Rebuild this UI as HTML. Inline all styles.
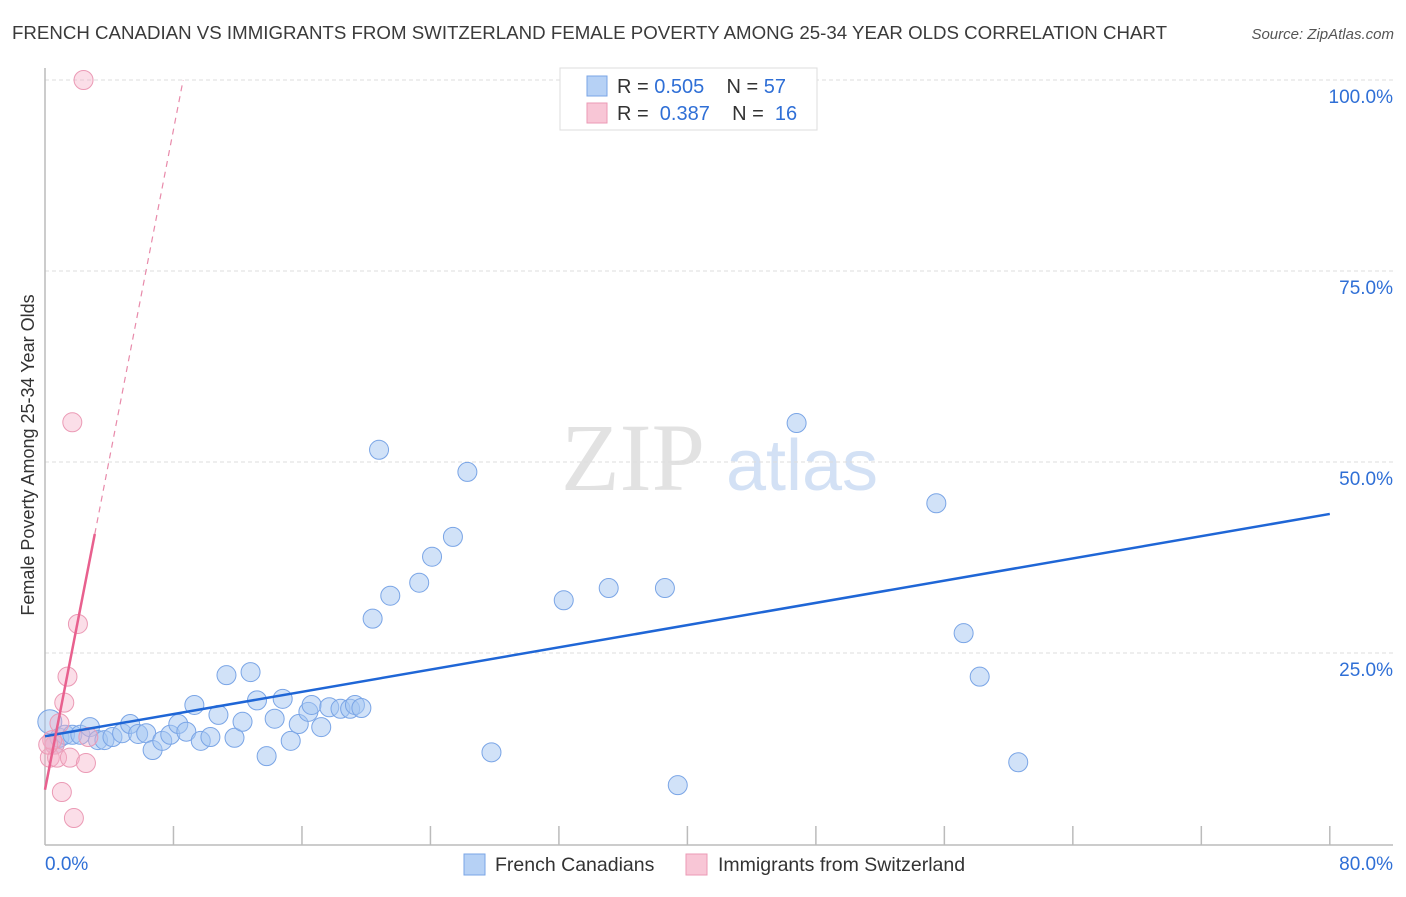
<!DOCTYPE html>
<html><head><meta charset="utf-8"><style>
body{margin:0;background:#fff;font-family:"Liberation Sans",sans-serif;}
</style></head><body>
<svg width="1406" height="892" xmlns="http://www.w3.org/2000/svg" id="chart">
<text x="12" y="39" font-size="18" fill="#3a3a3a" textLength="1155" lengthAdjust="spacingAndGlyphs">FRENCH CANADIAN VS IMMIGRANTS FROM SWITZERLAND FEMALE POVERTY AMONG 25-34 YEAR OLDS CORRELATION CHART</text>
<text x="1394" y="39" font-size="15" fill="#555" font-style="italic" text-anchor="end">Source: ZipAtlas.com</text>
<g>
<text x="633" y="490" font-size="96" fill="#e2e2e2" font-family="Liberation Serif,serif" text-anchor="middle">ZIP</text>
<text x="802" y="490" font-size="72" fill="#d3e1f5" text-anchor="middle">atlas</text>
</g>
<g id="grid"></g>
<g id="axes"></g>
<g id="marks"></g>
<text transform="translate(34,455) rotate(-90)" font-size="18" fill="#333" text-anchor="middle">Female Poverty Among 25-34 Year Olds</text>
<g>
<rect x="560" y="68" width="257" height="62" fill="#fff" stroke="#ddd"/>
<rect x="587" y="76" width="20" height="20" fill="#b6d1f5" stroke="#7aa5e6"/>
<text x="617" y="93" font-size="20" fill="#333" xml:space="preserve">R = <tspan fill="#2f6fd6">0.505</tspan>    N = <tspan fill="#2f6fd6">57</tspan></text>
<rect x="587" y="103" width="20" height="20" fill="#f8c6d6" stroke="#eb9ab5"/>
<text x="617" y="120" font-size="20" fill="#333" xml:space="preserve">R =  <tspan fill="#2f6fd6">0.387</tspan>    N =  <tspan fill="#2f6fd6">16</tspan></text>
</g>
<g>
<rect x="464" y="854" width="21" height="21" fill="#b6d1f5" stroke="#7aa5e6"/>
<text x="495" y="871" font-size="19.5" fill="#333">French Canadians</text>
<rect x="686" y="854" width="21" height="21" fill="#f8c6d6" stroke="#eb9ab5"/>
<text x="718" y="871" font-size="19.5" fill="#333">Immigrants from Switzerland</text>
</g>
</svg>
<script>
const blueX=[0.3,0.6,0.9,1.25,1.7,2.2,2.8,3.3,3.7,4.2,4.8,5.3,5.8,6.3,6.7,7.3,7.8,8.3,8.8,9.3,9.7,10.3,10.8,11.3,11.8,12.3,12.8,13.2,13.8,14.3,14.8,15.3,15.8,16.4,16.6,17.2,17.7,18.4,19.0,19.3,19.7,20.4,20.8,21.5,23.3,24.1,25.4,26.3,27.8,32.3,35.1,38.6,39.4,46.8,55.5,57.2,58.2,60.6];
const blueY=[16.0,13.0,13.9,14.3,14.3,14.3,15.3,13.6,13.6,14.0,14.5,15.7,14.4,14.5,12.3,13.5,14.3,15.7,14.7,18.2,13.5,14.0,16.9,22.1,13.9,16.0,22.5,18.8,11.5,16.4,19.0,13.5,15.7,17.3,18.2,15.3,17.9,17.7,17.7,18.2,17.8,29.5,51.6,32.5,34.2,37.6,40.2,48.7,12.0,31.9,33.5,33.5,7.7,55.1,44.6,27.6,21.9,10.7];
const pinkX=[2.4,1.7,2.05,1.4,1.2,0.9,0.6,0.3,0.75,1.55,2.55,1.05,1.8,0.45,0.2,2.7];
const pinkY=[100,55.2,28.8,21.9,18.5,15.8,13.0,11.3,11.3,11.3,10.6,6.8,3.4,13.6,13.0,14.0];
const blueTrend=[14.1,43.2];
const pinkTrend=[7.1,10.8];
const yTicks=[25,50,75,100];
const NS="http://www.w3.org/2000/svg";
const X=v=>45+v*16.06, Y=v=>844-v*7.64;
function mk(t,a,p){const e=document.createElementNS(NS,t);for(const k in a)e.setAttribute(k,a[k]);p.appendChild(e);return e;}
const grid=document.getElementById('grid'),axes=document.getElementById('axes'),marks=document.getElementById('marks');
yTicks.forEach(v=>{
 const l=mk('line',{x1:45,x2:1393,y1:Y(v),y2:Y(v),stroke:'#ddd','stroke-dasharray':'4,3'},grid);
 
 
 const t=mk('text',{x:1393,y:Y(v)+23,'font-size':19,fill:'#2f6fd6','text-anchor':'end'},axes);
 t.textContent=v.toFixed(1)+'%';
 
 
});
let ax=mk('line',{x1:45,x2:45,y1:68,y2:845,stroke:'#bbb','stroke-width':1.5},axes);


ax=mk('line',{x1:45,x2:1393,y1:845,y2:845,stroke:'#bbb','stroke-width':1.5},axes);


for(let i=1;i<=10;i++){const t=mk('line',{x1:X(i*8),x2:X(i*8),y1:826,y2:845,stroke:'#bbb','stroke-width':1.5},axes);
 
 }
let xl=mk('text',{x:45,y:870,'font-size':19,fill:'#2f6fd6'},axes);xl.textContent='0.0%';


xl=mk('text',{x:1393,y:870,'font-size':19,fill:'#2f6fd6','text-anchor':'end'},axes);xl.textContent='80.0%';


blueX.forEach((x,i)=>{const c=mk('circle',{cx:X(x),cy:Y(blueY[i]),r:i==0?12:9.5,fill:'rgba(164,198,242,0.5)',stroke:'#7aa5e6','stroke-width':1},marks);
 
 });
pinkX.forEach((x,i)=>{const c=mk('circle',{cx:X(x),cy:Y(pinkY[i]),r:9.5,fill:'rgba(246,172,198,0.4)',stroke:'#eb9ab5','stroke-width':1},marks);
 
 });
let tl=mk('line',{x1:X(0),y1:Y(blueTrend[0]),x2:X(80),y2:Y(blueTrend[1]),stroke:'#1f66d6','stroke-width':2.5},marks);


const pEnd=(100-pinkTrend[0])/pinkTrend[1];
tl=mk('line',{x1:X(3.1),y1:Y(pinkTrend[0]+pinkTrend[1]*3.1),x2:X(pEnd),y2:Y(100),stroke:'#e88aaa','stroke-width':1.2,'stroke-dasharray':'6,5'},marks);


tl=mk('line',{x1:X(0),y1:Y(pinkTrend[0]),x2:X(3.1),y2:Y(pinkTrend[0]+pinkTrend[1]*3.1),stroke:'#e8608e','stroke-width':2.5},marks);


</script>
</body></html>
